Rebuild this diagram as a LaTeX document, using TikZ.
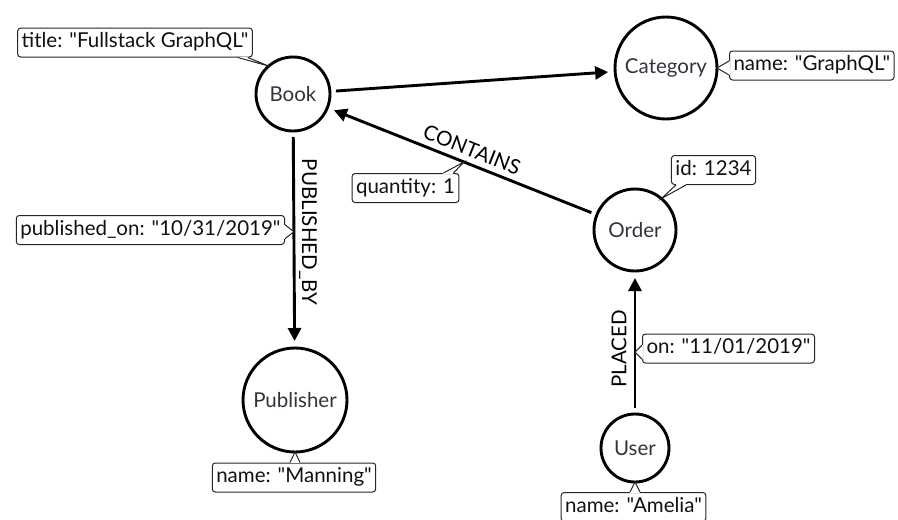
\documentclass[tikz,border=0pt]{standalone}
\usepackage{fontspec}
\setmainfont{Lato}[Ligatures=TeXOff]
\usetikzlibrary{arrows.meta,calc}
\definecolor{labelink}{HTML}{333340}
\definecolor{propink}{HTML}{111111}
\definecolor{propline}{HTML}{262626}
% pointer of a property box: #1 tip, #2 and #3 base points on the box border
\newcommand\propptr[3]{%
  \fill[white] (#2) -- (#1) -- (#3) -- cycle;
  \draw[white, line width=1.5pt] (#2) -- (#3);
  \draw[propedge] (#2) -- (#1) -- (#3);}
\begin{document}
\begin{tikzpicture}[x=1pt,y=1pt,
  txt/.style={font=\fontsize{20.5}{24}\selectfont},
  entity/.style={circle, draw, line width=2.9pt, inner sep=0pt, outer sep=0pt, txt, text=labelink},
  rel/.style={draw, line width=2.9pt, -{Triangle[length=13pt,width=13pt]}, shorten <=6pt, shorten >=7pt},
  rellabel/.style={txt, inner sep=0pt},
  prop/.style={rectangle, draw=propline, fill=white, line width=1pt, rounded corners=3pt,
    txt, text=propink, inner xsep=4pt, inner ysep=5pt, text height=14.5pt, text depth=4.5pt},
  propedge/.style={draw=propline, line width=1pt, line join=miter}]

\useasboundingbox (0,0) rectangle (898,-520);

% entities
\node[entity, minimum size=74pt]  (book)      at (293,-94)  {Book};
\node[entity, minimum size=102pt] (category)  at (666,-68)  {Category};
\node[entity, minimum size=82pt]  (order)     at (635,-230) {Order};
\node[entity, minimum size=104pt] (publisher) at (295,-400) {Publisher};
\node[entity, minimum size=68pt]  (user)      at (635,-448) {User};

% relationships
\draw[rel] (book) -- (category);
\draw[rel] (order) -- (book);
\draw[rel] (book) -- (publisher);
\draw[rel] (user) -- (order);

\node[rellabel, rotate=-21.7] (lblcontains) at (472,-150) {CONTAINS};
\node[rellabel, rotate=-90]   (lblpub)      at (308,-232) {PUBLISHED\_BY};
\node[rellabel, rotate=90]    (lblplaced)   at (619,-349) {PLACED};

% points on the relationships carrying properties
\coordinate (qtip) at ($(order.center)!0.5!(book.center)$);
\coordinate (ptip) at ($(book.center)!0.45!(publisher.center)$);
\coordinate (otip) at ($(user.center)!0.44!(order.center)$);

% property boxes
\node[prop] (ptitle)  at (135,-42.5)             {title: "Fullstack GraphQL"};
\node[prop, anchor=west] (pcat) at (729,-65.5)   {name: "GraphQL"};
\node[prop] (pqty)    at (405.5,-188)            {quantity: 1};
\node[prop] (pid)     at (713.5,-170)            {id: 1234};
\node[prop, anchor=east] (ppub) at (285,-230)    {published\_on: "10/31/2019"};
\node[prop] (pman)    at (294,-477.5)            {name: "Manning"};
\node[prop, anchor=west] (pon) at (642,-348.5)   {on: "11/01/2019"};
\node[prop] (pamelia) at (633.5,-507)            {name: "Amelia"};

% their pointers
\propptr{book.131}{$(ptitle.south east)+(-15,0)$}{$(ptitle.south east)+(-5,0)$}
\propptr{category.0}{$(category.0 -| pcat.west)+(0,7)$}{$(category.0 -| pcat.west)+(0,-7)$}
\propptr{qtip}{$(pqty.north east)+(-16,0)$}{$(pqty.north east)+(-6,0)$}
\propptr{order.50}{$(pid.south west)+(5,0)$}{$(pid.south west)+(15,0)$}
\propptr{ptip}{$(ptip -| ppub.east)+(0,7)$}{$(ptip -| ppub.east)+(0,-7)$}
\propptr{publisher.-90}{$(publisher.-90 |- pman.north)+(-5,0)$}{$(publisher.-90 |- pman.north)+(5,0)$}
\propptr{otip}{$(otip -| pon.west)+(0,7)$}{$(otip -| pon.west)+(0,-7)$}
\propptr{user.-90}{$(user.-90 |- pamelia.north)+(-5,0)$}{$(user.-90 |- pamelia.north)+(5,0)$}
\end{tikzpicture}
\end{document}
